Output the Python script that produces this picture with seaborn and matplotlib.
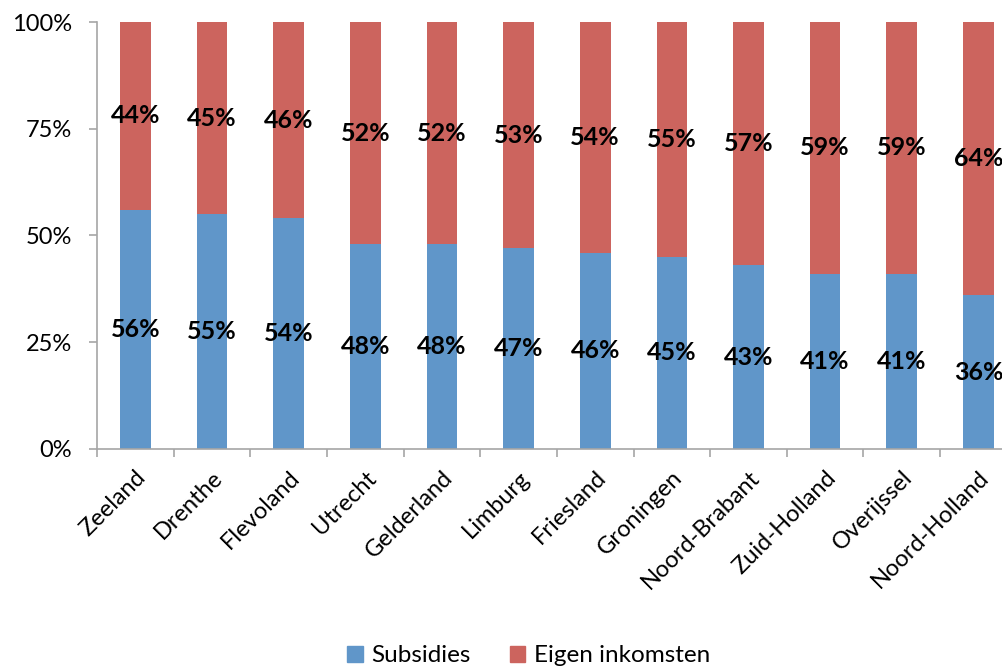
import numpy as np
import pandas as pd
import seaborn as sns
import matplotlib.pyplot as plt
from matplotlib.patches import Patch

provinces = ['Zeeland', 'Drenthe', 'Flevoland', 'Utrecht', 'Gelderland', 'Limburg',
             'Friesland', 'Groningen', 'Noord-Brabant', 'Zuid-Holland', 'Overijssel',
             'Noord-Holland']
subsidies = [56, 55, 54, 48, 48, 47, 46, 45, 43, 41, 41, 36]
eigen = [44, 45, 46, 52, 52, 53, 54, 55, 57, 59, 59, 64]

blue = '#6096C9'
red = '#CC645E'
grey = '#A6A6A6'

sns.set_style('white')
plt.rcParams['font.family'] = ['Lato', 'DejaVu Sans']
plt.rcParams['text.color'] = 'black'
plt.rcParams['xtick.color'] = 'black'
plt.rcParams['ytick.color'] = 'black'

df = pd.DataFrame({'provincie': provinces, 'Subsidies': subsidies, 'Eigen': eigen})
df['totaal'] = df['Subsidies'] + df['Eigen']

fig = plt.figure(figsize=(10.03, 6.68), dpi=100)
ax = fig.add_axes([0.0967, 0.328, 0.917, 0.639])

sns.barplot(data=df, x='provincie', y='totaal', color=red, width=0.4,
            saturation=1, ax=ax, edgecolor='none')
sns.barplot(data=df, x='provincie', y='Subsidies', color=blue, width=0.4,
            saturation=1, ax=ax, edgecolor='none')

# value labels in the middle of each segment
for i, (s, e) in enumerate(zip(subsidies, eigen)):
    ax.text(i, s / 2, f'{s}%', ha='center', va='center', fontsize=18,
            fontweight='bold')
    ax.text(i, s + e / 2, f'{e}%', ha='center', va='center', fontsize=18,
            fontweight='bold')

ax.set_xlim(-0.5, len(provinces) - 0.5)
ax.set_ylim(0, 100)
ax.set_yticks([0, 25, 50, 75, 100])
ax.set_yticklabels(['0%', '25%', '50%', '75%', '100%'], fontsize=17)
ax.set_xticks(range(len(provinces)))
ax.set_xticklabels(provinces, rotation=45, ha='right', rotation_mode='anchor',
                   fontsize=17)
ax.set_xticks(np.arange(-0.5, len(provinces), 1), minor=True)
ax.tick_params(axis='x', which='major', length=0, pad=13, colors='black')
ax.tick_params(axis='x', which='minor', length=6, color=grey, width=1.2,
               direction='out', bottom=True)
ax.tick_params(axis='y', length=6, color=grey, width=1.2, direction='out', left=True,
               labelcolor='black', pad=12)
ax.set_xlabel('')
ax.set_ylabel('')

sns.despine(ax=ax, top=True, right=True)
for side in ['left', 'bottom']:
    ax.spines[side].set_color(grey)
    ax.spines[side].set_linewidth(1.2)

handles = [Patch(color=blue, label='Subsidies'), Patch(color=red, label='Eigen inkomsten')]
fig.legend(handles=handles, loc='center', bbox_to_anchor=(0.527, 0.018), ncol=2,
           frameon=False, fontsize=17.5, handlelength=0.65, handleheight=0.65,
           columnspacing=1.6, handletextpad=0.35)

fig.savefig('out.png', dpi=100)
